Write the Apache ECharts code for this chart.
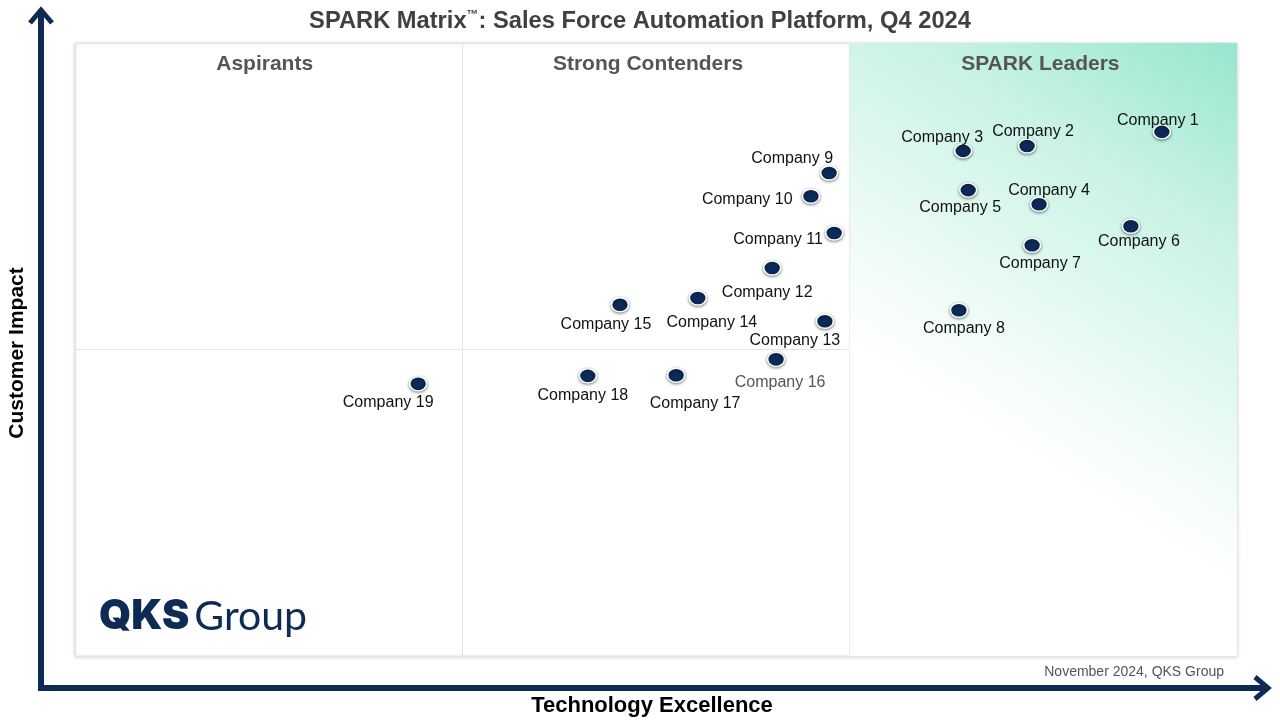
<!DOCTYPE html>
<html lang="en">
<head>
    <meta charset="utf-8">
    <title>SPARK Matrix</title>
    <script src="https://cdn.jsdelivr.net/npm/echarts@6/dist/echarts.min.js"></script>
    <style>
        html, body { margin: 0; padding: 0; background: #fff; }
        #chart { width: 1280px; height: 720px; }
    </style>
</head>
<body>
    <div id="chart"></div>
    <script type="text/javascript">

    // companies and their scores (x: technology excellence 0-300, y: customer impact 0-100)
    var companies = ['Company 1', 'Company 2', 'Company 3', 'Company 4', 'Company 5',
        'Company 6', 'Company 7', 'Company 8', 'Company 9', 'Company 10',
        'Company 11', 'Company 12', 'Company 13', 'Company 14', 'Company 15',
        'Company 16', 'Company 17', 'Company 18', 'Company 19'];
    var techScore = [280.6, 245.8, 229.3, 248.9, 230.6, 272.6, 247.1, 228.2, 194.7, 190.0,
        196.0, 180.0, 193.6, 160.8, 140.7, 181.0, 155.2, 132.4, 88.6];
    var impactScore = [85.5, 83.2, 82.4, 73.7, 76.0, 70.1, 67.0, 56.4, 78.8, 75.0,
        69.0, 63.3, 54.6, 58.4, 57.3, 48.4, 45.8, 45.7, 44.4];
    var quadrants = ['Aspirants', 'Strong Contenders', 'SPARK Leaders'];

    // where each company label sits relative to its dot
    var labelPlace = [
        ['top', -4, 8], ['top', 6, 5], ['top', -21, 6], ['top', 10, 6], ['bottom', -8, -2],
        ['bottom', 8, -4], ['bottom', 8, -1], ['bottom', 5, -1], ['top', -37, 5], ['left', -5, 3],
        ['left', 2, 7], ['bottom', -5, 5], ['bottom', -30, 0], ['bottom', 14, 5], ['bottom', -14, 0],
        ['bottom', 4, 4], ['bottom', 19, 9], ['bottom', -5, 0], ['bottom', -30, -1]
    ];

    var points = companies.map(function (name, i) {
        return {
            name: name,
            value: [techScore[i], impactScore[i]],
            label: {
                position: labelPlace[i][0],
                offset: [labelPlace[i][1], labelPlace[i][2]],
                color: i === 15 ? '#555' : '#111'
            }
        };
    });

    var navy = '#0d2b54';
    var font = 'Liberation Sans, Arial, sans-serif';
    var leaderFill = new echarts.graphic.LinearGradient(0, 1, 1, 0, [
        {offset: 0, color: '#ffffff'},
        {offset: 0.36, color: '#ffffff'},
        {offset: 0.5, color: '#eefbf6'},
        {offset: 0.75, color: '#cbf3e6'},
        {offset: 1, color: '#98e6cf'}
    ]);
    function quadLabel(dx) {
        return {
            show: true, position: 'insideTop', distance: 11, offset: [dx, 0],
            fontSize: 21, fontWeight: 'bold', color: '#555', fontFamily: font
        };
    }

    var chart = echarts.init(document.getElementById('chart'));
    chart.setOption({
        animation: false,
        textStyle: {fontFamily: font},
        title: {
            text: '{a|SPARK Matrix}{t|™}{a|: Sales Force Automation Platform, Q4 2024}',
            left: 'center',
            top: 4,
            textStyle: {
                rich: {
                    a: {fontSize: 23.7, fontWeight: 'bold', color: '#404040', fontFamily: font},
                    t: {fontSize: 12, fontWeight: 'bold', color: '#404040', fontFamily: font, verticalAlign: 'top', padding: [0, 0, 9, 0]}
                }
            }
        },
        grid: {
            left: 75, right: 43, top: 43, bottom: 64,
            show: true, backgroundColor: '#fff', borderColor: '#e2e2e2', borderWidth: 1,
            shadowColor: 'rgba(0,0,0,0.15)', shadowBlur: 4, shadowOffsetY: 1
        },
        xAxis: {
            type: 'value', min: 0, max: 300, interval: 100,
            axisLine: {show: false}, axisTick: {show: false}, axisLabel: {show: false},
            splitLine: {show: true, lineStyle: {color: '#e4e4e4', width: 1}}
        },
        yAxis: {
            type: 'value', min: 0, max: 100, interval: 50,
            axisLine: {show: false}, axisTick: {show: false}, axisLabel: {show: false},
            splitLine: {show: true, lineStyle: {color: '#e4e4e4', width: 1}}
        },
        series: [{
            type: 'scatter',
            data: points,
            symbol: 'circle',
            symbolSize: [17, 14],
            itemStyle: {
                color: '#0b2a57', opacity: 1, borderColor: '#fff', borderWidth: 1.5,
                shadowColor: 'rgba(0,0,0,0.45)', shadowBlur: 3, shadowOffsetY: 1
            },
            label: {
                show: true,
                formatter: '{b}',
                fontSize: 16,
                distance: 4,
                fontFamily: font
            },
            markArea: {
                silent: true,
                data: [
                    [{xAxis: 0, yAxis: 0, name: quadrants[0], itemStyle: {color: 'rgba(0,0,0,0)'}, label: quadLabel(-4)},
                     {xAxis: 100, yAxis: 100}],
                    [{xAxis: 100, yAxis: 0, name: quadrants[1], itemStyle: {color: 'rgba(0,0,0,0)'}, label: quadLabel(-8)},
                     {xAxis: 200, yAxis: 100}],
                    [{xAxis: 200, yAxis: 0, name: quadrants[2], itemStyle: {color: leaderFill, opacity: 1}, label: quadLabel(-3)},
                     {xAxis: 300, yAxis: 100}]
                ]
            }
        }],
        graphic: [
            // axis arrows
            {type: 'line', shape: {x1: 41, y1: 691, x2: 41, y2: 11}, style: {stroke: navy, lineWidth: 6}},
            {type: 'polyline', shape: {points: [[30, 23], [41, 10], [52, 23]]}, style: {stroke: navy, lineWidth: 5, fill: null}},
            {type: 'line', shape: {x1: 38, y1: 688, x2: 1267, y2: 688}, style: {stroke: navy, lineWidth: 6}},
            {type: 'polyline', shape: {points: [[1255, 677], [1268, 688], [1255, 699]]}, style: {stroke: navy, lineWidth: 5, fill: null}},
            // axis names
            {type: 'text', x: 17, y: 353, rotation: Math.PI / 2,
             style: {text: 'Customer Impact', fontSize: 21, fontWeight: 'bold', fill: '#000',
                     fontFamily: font, align: 'center', verticalAlign: 'middle'}},
            {type: 'text', x: 652, y: 706,
             style: {text: 'Technology Excellence', fontSize: 22, fontWeight: 'bold', fill: '#000',
                     fontFamily: font, align: 'center', verticalAlign: 'middle'}},
            {type: 'text', x: 1224, y: 672,
             style: {text: 'November 2024, QKS Group', fontSize: 14, fill: '#555',
                     fontFamily: font, align: 'right', verticalAlign: 'middle'}},
            // logo
            {type: 'text', x: 99, y: 617,
             style: {text: '{q|QKS}{g|Group}', verticalAlign: 'middle',
                     rich: {
                         q: {fontSize: 41, fontWeight: 900, fill: '#0d2b54', fontFamily: 'Inter, Roboto, sans-serif', padding: [0, 5, 0, 0]},
                         g: {fontSize: 41, fontWeight: 'normal', fill: '#0d2b54', fontFamily: 'Lato, Roboto, sans-serif'}
                     }}}
        ]
    });
    </script>
</body>
</html>
